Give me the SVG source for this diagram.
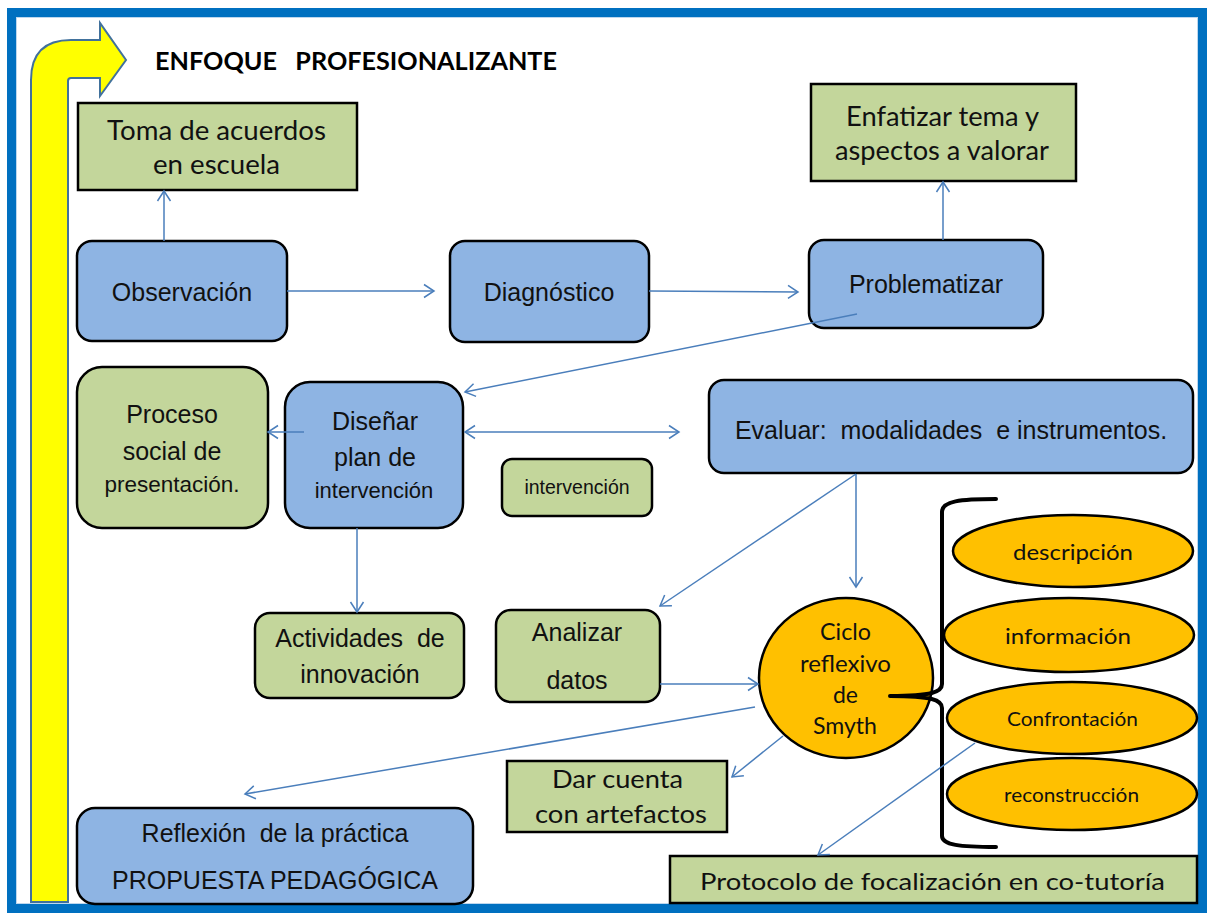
<svg xmlns="http://www.w3.org/2000/svg" width="1209" height="913" viewBox="0 0 1209 913">
<style>
.blue{fill:#8EB4E3;stroke:#000;stroke-width:2.5}
.green{fill:#C3D69B;stroke:#000;stroke-width:2.5}
.orange{fill:#FFC000;stroke:#000;stroke-width:2.5}
.ar{font-family:"Liberation Sans",Arial,sans-serif;font-size:25px;fill:#111;text-anchor:middle}
.ca{font-family:Lato,"Open Sans",sans-serif;fill:#111;text-anchor:middle}
.con{fill:none;stroke:#4A7EBB;stroke-width:1.5}
</style>
<defs>
<marker id="ah" viewBox="-12 -8 14 16" markerWidth="14" markerHeight="16" refX="0" refY="0" markerUnits="userSpaceOnUse" orient="auto-start-reverse">
<path d="M-10,-6.5 L0,0 L-10,6.5" fill="none" stroke="#4A7EBB" stroke-width="1.5"/>
</marker>
</defs>
<rect x="11.5" y="12.5" width="1191" height="896" fill="#fff" stroke="#0070C0" stroke-width="9"/>
<rect x="16.5" y="17.5" width="1181" height="886" fill="none" stroke="#BDD7EE" stroke-width="1"/>
<g id="big-arrow">
<path d="M31,902 L31,80 Q31,40 71,40 L100,40 L100,23 L126,60 L100,96 L100,78 L71,78 Q68,78 68,81 L68,902 Z" fill="#FFFF00" stroke="#41719C" stroke-width="2"/>
</g>
<g id="title">
<text x="155" y="70" font-family="Lato,'Open Sans',sans-serif" font-weight="bold" font-size="24" fill="#000" textLength="402" lengthAdjust="spacingAndGlyphs" xml:space="preserve">ENFOQUE   PROFESIONALIZANTE</text>
</g>
<g id="n-toma">
<rect class="green" x="78" y="103" width="279" height="87"/>
<text class="ca" font-size="26" x="216.5" y="140" textLength="219" lengthAdjust="spacingAndGlyphs">Toma de acuerdos</text>
<text class="ca" font-size="26" x="216.5" y="174" textLength="127" lengthAdjust="spacingAndGlyphs">en escuela</text>
</g>
<g id="n-enfatizar">
<rect class="green" x="811" y="84" width="265" height="97"/>
<text class="ca" font-size="26" x="942.5" y="126" textLength="193" lengthAdjust="spacingAndGlyphs">Enfatizar tema y</text>
<text class="ca" font-size="26" x="942" y="160" textLength="214" lengthAdjust="spacingAndGlyphs">aspectos a valorar</text>
</g>
<g id="n-observacion">
<rect class="blue" x="77" y="241" width="210" height="100" rx="15"/>
<text class="ar" x="182" y="301">Observación</text>
</g>
<g id="n-diagnostico">
<rect class="blue" x="450" y="241" width="199" height="101" rx="15"/>
<text class="ar" x="549" y="301">Diagnóstico</text>
</g>
<g id="n-problematizar">
<rect class="blue" x="809" y="240" width="234" height="88" rx="15"/>
<text class="ar" x="926" y="293">Problematizar</text>
</g>
<g id="n-proceso">
<rect class="green" x="77" y="367" width="191" height="161" rx="25"/>
<text class="ar" x="172" y="423">Proceso</text>
<text class="ar" x="172" y="460">social de</text>
<text class="ar" x="172" y="492" style="font-size:22.5px">presentación.</text>
</g>
<g id="n-disenar">
<rect class="blue" x="285" y="382" width="178" height="146" rx="25"/>
<text class="ar" x="375" y="430">Diseñar</text>
<text class="ar" x="375" y="466">plan de</text>
<text class="ar" x="374" y="498" style="font-size:22px">intervención</text>
</g>
<g id="n-intervencion">
<rect class="green" x="502" y="459" width="150" height="57" rx="10"/>
<text class="ar" x="577" y="494" style="font-size:19.5px">intervención</text>
</g>
<g id="n-evaluar">
<rect class="blue" x="709" y="380" width="484" height="93" rx="15"/>
<text class="ar" x="951" y="439" xml:space="preserve">Evaluar:  modalidades  e instrumentos.</text>
</g>
<g id="n-actividades">
<rect class="green" x="255" y="613" width="209" height="85" rx="15"/>
<text class="ar" x="360" y="647" xml:space="preserve">Actividades  de</text>
<text class="ar" x="360" y="683">innovación</text>
</g>
<g id="n-analizar">
<rect class="green" x="496" y="610" width="164" height="92" rx="15"/>
<text class="ar" x="577" y="641">Analizar</text>
<text class="ar" x="577" y="689">datos</text>
</g>
<g id="n-ciclo">
<ellipse class="orange" cx="846" cy="678" rx="87" ry="80"/>
<text class="ca" font-size="23" x="845.5" y="640" textLength="51" lengthAdjust="spacingAndGlyphs">Ciclo</text>
<text class="ca" font-size="23" x="845.5" y="672" textLength="91" lengthAdjust="spacingAndGlyphs">reflexivo</text>
<text class="ca" font-size="23" x="845.5" y="703" textLength="25" lengthAdjust="spacingAndGlyphs">de</text>
<text class="ca" font-size="23" x="845" y="734" textLength="64" lengthAdjust="spacingAndGlyphs">Smyth</text>
</g>
<g id="n-descripcion">
<ellipse class="orange" cx="1073" cy="551" rx="120" ry="36"/>
<text class="ca" font-size="22" x="1073" y="560" textLength="120" lengthAdjust="spacingAndGlyphs">descripción</text>
</g>
<g id="n-informacion">
<ellipse class="orange" cx="1069" cy="635" rx="125" ry="37"/>
<text class="ca" font-size="22" x="1068" y="644" textLength="126" lengthAdjust="spacingAndGlyphs">información</text>
</g>
<g id="n-confrontacion">
<ellipse class="orange" cx="1072" cy="718" rx="125" ry="36"/>
<text class="ca" font-size="19" x="1072.5" y="726" textLength="131" lengthAdjust="spacingAndGlyphs">Confrontación</text>
</g>
<g id="n-reconstruccion">
<ellipse class="orange" cx="1072" cy="794" rx="125" ry="36"/>
<text class="ca" font-size="19" x="1071.5" y="802" textLength="135" lengthAdjust="spacingAndGlyphs">reconstrucción</text>
</g>
<g id="brace">
<path d="M996,499 C960,499 942,501 942,512 L942,684 C942,692 932,696 890,696 C932,696 942,700 942,708 L942,836 C942,845 960,847 996,847" fill="none" stroke="#000" stroke-width="4" stroke-linecap="round" stroke-linejoin="round"/>
</g>
<g id="n-darcuenta">
<rect class="green" x="507" y="761" width="220" height="71"/>
<text class="ca" font-size="25" x="617.5" y="788" textLength="131" lengthAdjust="spacingAndGlyphs">Dar cuenta</text>
<text class="ca" font-size="25" x="621" y="823" textLength="172" lengthAdjust="spacingAndGlyphs">con artefactos</text>
</g>
<g id="n-reflexion">
<rect class="blue" x="77" y="808" width="396" height="96" rx="18"/>
<text class="ar" x="275" y="842" xml:space="preserve">Reflexión  de la práctica</text>
<text class="ar" x="275" y="889">PROPUESTA PEDAGÓGICA</text>
</g>
<g id="n-protocolo">
<rect class="green" x="670" y="856" width="527" height="47"/>
<text class="ca" font-size="24" x="932.5" y="890" textLength="465" lengthAdjust="spacingAndGlyphs">Protocolo de focalización en co-tutoría</text>
</g>
<g id="connectors">
<line class="con" x1="164" y1="241" x2="164" y2="191" marker-end="url(#ah)"/>
<line class="con" x1="287" y1="291" x2="434" y2="291" marker-end="url(#ah)"/>
<line class="con" x1="649" y1="291" x2="798" y2="292" marker-end="url(#ah)"/>
<line class="con" x1="943" y1="240" x2="943" y2="182" marker-end="url(#ah)"/>
<line class="con" x1="857" y1="314" x2="465" y2="392" marker-end="url(#ah)"/>
<line class="con" x1="465" y1="432" x2="679" y2="432" marker-start="url(#ah)" marker-end="url(#ah)"/>
<line class="con" x1="304" y1="432" x2="268" y2="432" marker-end="url(#ah)"/>
<line class="con" x1="357" y1="528" x2="357" y2="612" marker-end="url(#ah)"/>
<line class="con" x1="856" y1="474" x2="660" y2="606" marker-end="url(#ah)"/>
<line class="con" x1="856" y1="474" x2="856" y2="587" marker-end="url(#ah)"/>
<line class="con" x1="660" y1="684" x2="758" y2="684" marker-end="url(#ah)"/>
<line class="con" x1="755" y1="707" x2="245" y2="794" marker-end="url(#ah)"/>
<line class="con" x1="783" y1="736" x2="732" y2="777" marker-end="url(#ah)"/>
<line class="con" x1="975" y1="743" x2="818" y2="855" marker-end="url(#ah)"/>
</g>
</svg>
